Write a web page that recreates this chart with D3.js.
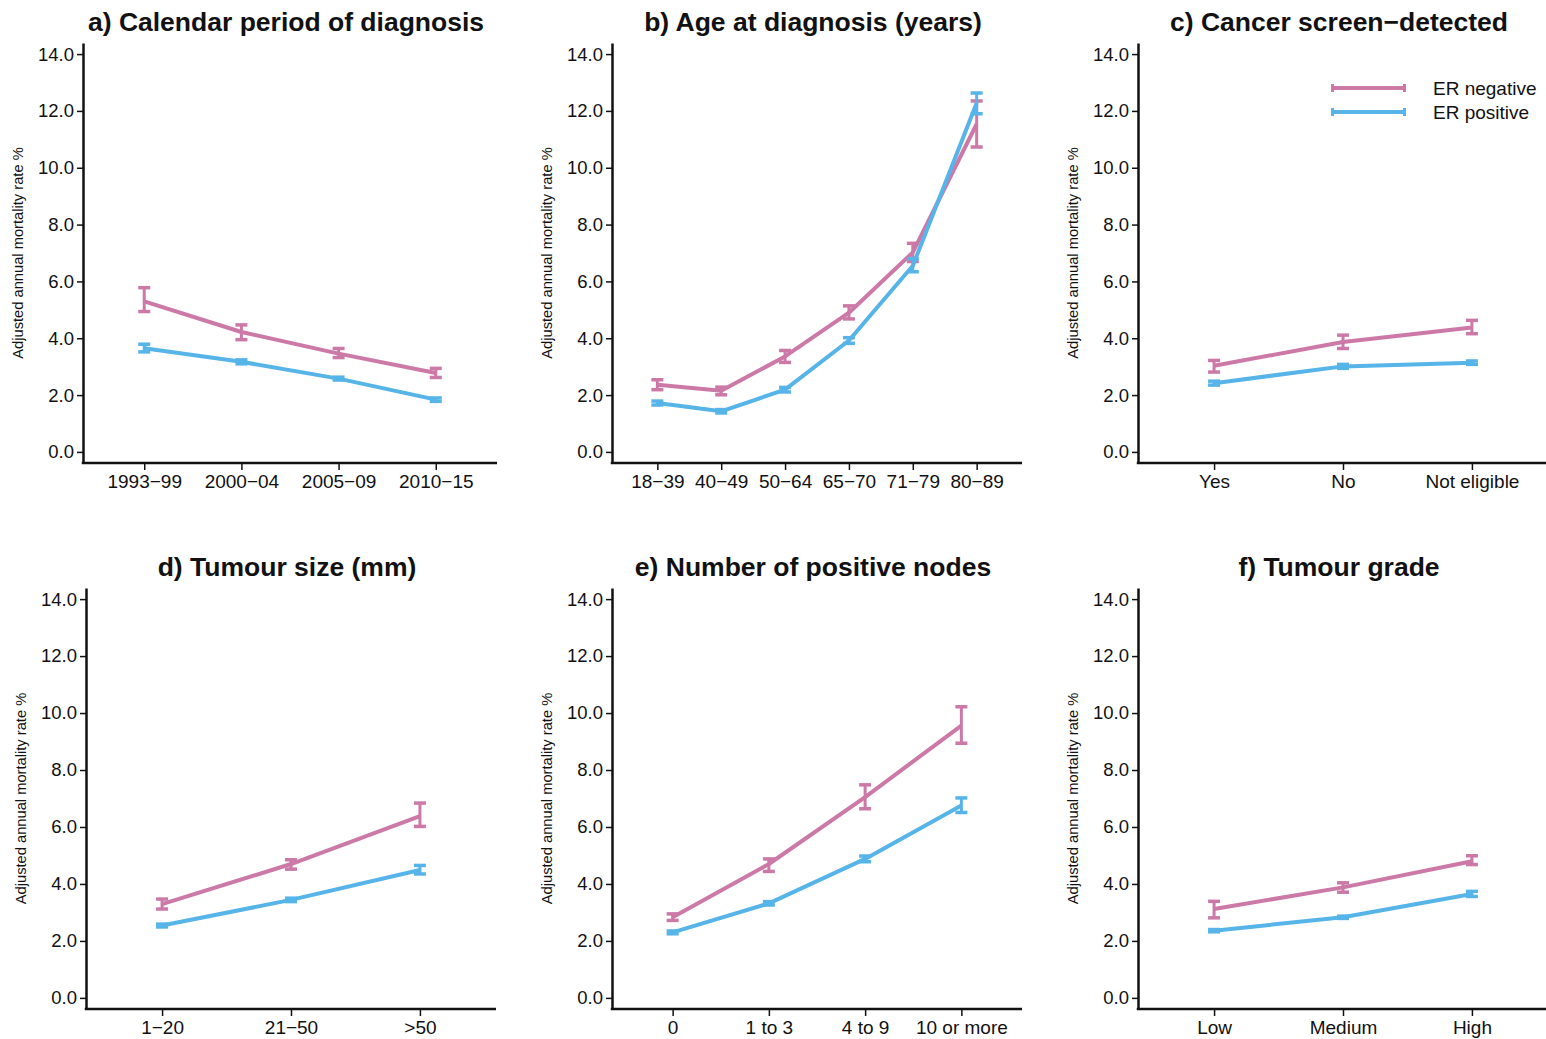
<!DOCTYPE html>
<html>
<head>
<meta charset="utf-8">
<title>ER mortality panels</title>
<script src="https://d3js.org/d3.v7.min.js"></script>
<style>
	body { margin: 0; background: #fff; }
	svg text { font-family: "Liberation Sans", Arial, Helvetica, sans-serif; fill: #111; }
</style>
</head>
<body>
<svg id="chart" width="1546" height="1039"></svg>
<script type="text/javascript">
	// ---- data ----
	const yTicks = [0, 2, 4, 6, 8, 10, 12, 14];
	const yLabel = "Adjusted annual mortality rate %";
	const seriesNames = ["ER negative", "ER positive"];
	const colors = ["#CC79A7", "#56B4E9"];

	// a) calendar period
	const catA = ["1993\u221299", "2000\u221204", "2005\u221209", "2010\u221215"];
	const negA = [5.30, 4.22, 3.46, 2.78];
	const negLoA = [4.94, 3.95, 3.32, 2.62];
	const negHiA = [5.78, 4.47, 3.64, 2.94];
	const posA = [3.65, 3.17, 2.58, 1.84];
	const posLoA = [3.52, 3.10, 2.53, 1.78];
	const posHiA = [3.79, 3.24, 2.63, 1.90];

	// b) age at diagnosis
	const catB = ["18\u221239", "40\u221249", "50\u221264", "65\u221270", "71\u221279", "80\u221289"];
	const negB = [2.36, 2.15, 3.36, 4.90, 7.02, 11.54];
	const negLoB = [2.19, 2.01, 3.15, 4.68, 6.70, 10.73];
	const negHiB = [2.54, 2.28, 3.57, 5.14, 7.34, 12.35];
	const posB = [1.72, 1.43, 2.19, 3.92, 6.55, 12.28];
	const posLoB = [1.65, 1.37, 2.11, 3.82, 6.34, 11.90];
	const posHiB = [1.79, 1.49, 2.27, 4.02, 6.80, 12.63];

	// c) screen-detected
	const catC = ["Yes", "No", "Not eligible"];
	const negC = [3.03, 3.87, 4.38];
	const negLoC = [2.81, 3.64, 4.16];
	const negHiC = [3.22, 4.11, 4.63];
	const posC = [2.42, 3.01, 3.14];
	const posLoC = [2.35, 2.94, 3.08];
	const posHiC = [2.49, 3.08, 3.20];

	// d) tumour size
	const catD = ["1\u221220", "21\u221250", ">50"];
	const negD = [3.29, 4.70, 6.38];
	const negLoD = [3.12, 4.52, 6.02];
	const negHiD = [3.47, 4.85, 6.84];
	const posD = [2.54, 3.44, 4.49];
	const posLoD = [2.49, 3.38, 4.35];
	const posHiD = [2.59, 3.50, 4.65];

	// e) positive nodes
	const catE = ["0", "1 to 3", "4 to 9", "10 or more"];
	const negE = [2.83, 4.70, 7.05, 9.56];
	const negLoE = [2.72, 4.44, 6.64, 8.94];
	const negHiE = [2.95, 4.88, 7.48, 10.22];
	const posE = [2.30, 3.32, 4.88, 6.75];
	const posLoE = [2.25, 3.26, 4.78, 6.51];
	const posHiE = [2.35, 3.38, 4.98, 7.02];

	// f) grade
	const catF = ["Low", "Medium", "High"];
	const negF = [3.12, 3.88, 4.80];
	const negLoF = [2.81, 3.71, 4.68];
	const negHiF = [3.39, 4.04, 4.99];
	const posF = [2.36, 2.83, 3.65];
	const posLoF = [2.32, 2.79, 3.56];
	const posHiF = [2.40, 2.87, 3.74];

	const panels = [
		{ title: "a) Calendar period of diagnosis", cats: catA, neg: [negA, negLoA, negHiA], pos: [posA, posLoA, posHiA] },
		{ title: "b) Age at diagnosis (years)", cats: catB, neg: [negB, negLoB, negHiB], pos: [posB, posLoB, posHiB] },
		{ title: "c) Cancer screen\u2212detected", cats: catC, neg: [negC, negLoC, negHiC], pos: [posC, posLoC, posHiC], legend: true },
		{ title: "d) Tumour size (mm)", cats: catD, neg: [negD, negLoD, negHiD], pos: [posD, posLoD, posHiD] },
		{ title: "e) Number of positive nodes", cats: catE, neg: [negE, negLoE, negHiE], pos: [posE, posLoE, posHiE] },
		{ title: "f) Tumour grade", cats: catF, neg: [negF, negLoF, negHiF], pos: [posF, posLoF, posHiF] }
	];

	// ---- layout ----
	const boxes = [
		{ x0: 83,   x1: 497,  top: 43,  bottom: 463 },
		{ x0: 612,  x1: 1022, top: 43,  bottom: 463 },
		{ x0: 1138, x1: 1548, top: 43,  bottom: 463 },
		{ x0: 86,   x1: 496,  top: 588, bottom: 1009 },
		{ x0: 612,  x1: 1022, top: 588, bottom: 1009 },
		{ x0: 1138, x1: 1548, top: 588, bottom: 1009 }
	];

	let svg = d3.select("#chart");

	function draw_panel(p, b)
	{
		let g = svg.append("g");
		let n = p.cats.length;
		let x = d3.scalePoint().domain(p.cats).range([b.x0, b.x1]).padding(0.47 + 0.04 * n);
		// axis extends 0.39 units beyond 0 and 14
		let y = d3.scaleLinear().domain([-0.39, 14.39]).range([b.bottom, b.top]);

		// title
		g.append("text")
			.attr("x", (b.x0 + b.x1) / 2 - 4)
			.attr("y", b.top - 12)
			.attr("text-anchor", "middle")
			.style("font-size", "26.5px")
			.style("font-weight", "bold")
			.text(p.title);

		// y axis
		let ya = g.append("g").attr("transform", "translate(" + b.x0 + ",0)")
			.call(d3.axisLeft(y).tickValues(yTicks).tickFormat(d3.format(".1f")).tickSize(6).tickSizeOuter(0).tickPadding(3));
		ya.select(".domain").attr("stroke", "#111").attr("stroke-width", 2.5);
		ya.selectAll(".tick line").attr("stroke", "#111").attr("stroke-width", 1.5);
		ya.selectAll(".tick text").style("font-size", "18.5px").attr("fill", "#111");

		// y title
		g.append("text")
			.attr("transform", "translate(" + (b.x0 - 60) + "," + y(7) + ") rotate(-90)")
			.attr("text-anchor", "middle")
			.style("font-size", "14.7px")
			.text(yLabel);

		// x axis
		let xa = g.append("g").attr("transform", "translate(0," + b.bottom + ")")
			.call(d3.axisBottom(x).tickSize(7).tickSizeOuter(0).tickPadding(5));
		xa.select(".domain").attr("stroke", "#111").attr("stroke-width", 2.5)
			.attr("d", "M" + (b.x0 - 1.25) + ",0H" + b.x1);
		xa.selectAll(".tick line").attr("stroke", "#111").attr("stroke-width", 1.5);
		xa.selectAll(".tick text").style("font-size", "19px").attr("fill", "#111");

		// series: negative first, positive on top
		[p.neg, p.pos].forEach(function(s, k)
		{
			let mid = s[0], lo = s[1], hi = s[2];
			let rows = p.cats.map(function(c, i) { return { c: c, m: mid[i], lo: lo[i], hi: hi[i] }; });
			let col = colors[k];

			g.append("path")
				.datum(rows)
				.attr("fill", "none")
				.attr("stroke", col)
				.attr("stroke-width", 4)
				.attr("stroke-linejoin", "round")
				.attr("d", d3.line().x(d => x(d.c)).y(d => y(d.m)));

			let eb = g.selectAll(null).data(rows).enter().append("g");
			eb.append("line")
				.attr("x1", d => x(d.c)).attr("x2", d => x(d.c))
				.attr("y1", d => y(d.lo)).attr("y2", d => y(d.hi))
				.attr("stroke", col).attr("stroke-width", 3);
			eb.append("line")
				.attr("x1", d => x(d.c) - 6).attr("x2", d => x(d.c) + 6)
				.attr("y1", d => y(d.lo)).attr("y2", d => y(d.lo))
				.attr("stroke", col).attr("stroke-width", 3.5);
			eb.append("line")
				.attr("x1", d => x(d.c) - 6).attr("x2", d => x(d.c) + 6)
				.attr("y1", d => y(d.hi)).attr("y2", d => y(d.hi))
				.attr("stroke", col).attr("stroke-width", 3.5);
		});

		if (p.legend)
		{
			let lg = g.append("g").attr("transform", "translate(1331,88)");
			seriesNames.forEach(function(name, k)
			{
				let row = lg.append("g").attr("transform", "translate(0," + (k * 24) + ")");
				row.append("line").attr("x1", 0).attr("x2", 75).attr("y1", 0).attr("y2", 0)
					.attr("stroke", colors[k]).attr("stroke-width", 4);
				row.append("line").attr("x1", 1.5).attr("x2", 1.5).attr("y1", -4).attr("y2", 4)
					.attr("stroke", colors[k]).attr("stroke-width", 3);
				row.append("line").attr("x1", 73.5).attr("x2", 73.5).attr("y1", -4).attr("y2", 4)
					.attr("stroke", colors[k]).attr("stroke-width", 3);
				row.append("text").attr("x", 102).attr("y", 6.5)
					.style("font-size", "19px")
					.text(name);
			});
		}
	}

	panels.forEach(function(p, i) { draw_panel(p, boxes[i]); });
</script>
</body>
</html>
